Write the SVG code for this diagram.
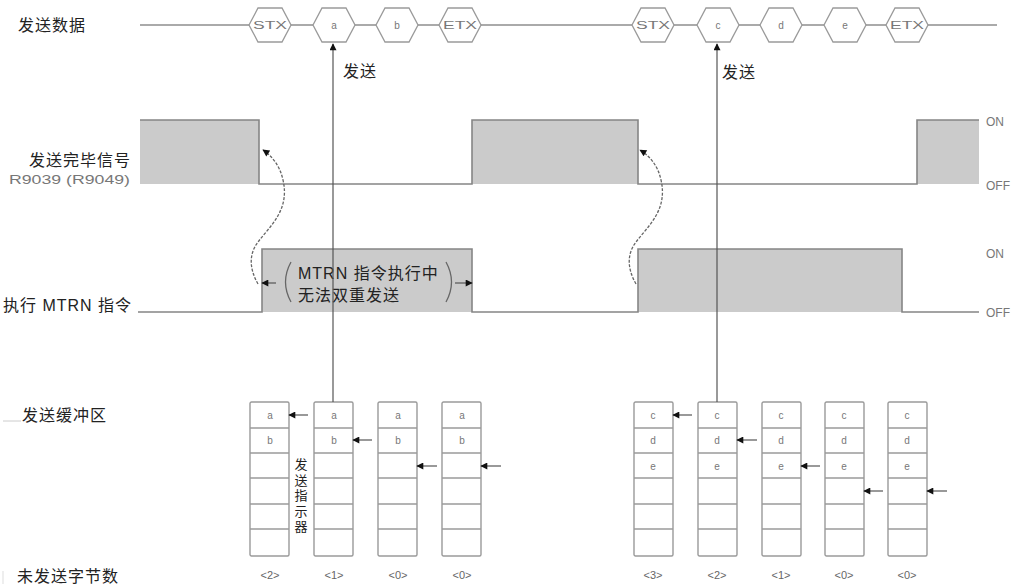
<svg xmlns="http://www.w3.org/2000/svg" width="1023" height="585" viewBox="0 0 1023 585">
<style>
.lbl{font-family:"Liberation Sans","Noto Sans CJK SC",sans-serif;font-size:16px;letter-spacing:1px;fill:#222}
.vt{font-family:"Noto Sans CJK SC",sans-serif;font-size:13px;fill:#222;writing-mode:vertical-rl;letter-spacing:2.5px}
.sm{font-family:"Liberation Sans",Arial,sans-serif;font-size:10px;fill:#777;text-anchor:middle}
.cnt{font-family:"Liberation Sans",Arial,sans-serif;font-size:11px;fill:#666;text-anchor:middle}
.onoff{font-family:"Liberation Sans",Arial,sans-serif;font-size:12px;fill:#777}
.hex{fill:#fff;stroke:#9a9a9a;stroke-width:1.3}
.wave{fill:none;stroke:#858585;stroke-width:1.6}
.blk{fill:#cbcbcb}
.buf{fill:#fff;stroke:#9a9a9a;stroke-width:1.4}
.row{stroke:#9a9a9a;stroke-width:1.4}
.conn{stroke:#555;stroke-width:1.2;fill:none}
.curve{stroke:#666;stroke-width:1.3;fill:none;stroke-dasharray:3 1.5}
.paren{stroke:#666;stroke-width:1.3;fill:none}
</style>
<defs>
<polygon id="hexshape" points="-21,0 -12,-17 12,-17 21,0 12,17 -12,17"/>
<marker id="ah" viewBox="0 0 10 10" refX="9" refY="5" markerWidth="10" markerHeight="7" markerUnits="userSpaceOnUse" orient="auto">
<path d="M0,0 L10,5 L0,10 z" fill="#111"/>
</marker>
<marker id="ahs" viewBox="0 0 10 10" refX="9" refY="5" markerWidth="10" markerHeight="7" markerUnits="userSpaceOnUse" orient="auto">
<path d="M0,0 L10,5 L0,10 z" fill="#111"/>
</marker>
<g id="buf6">
<rect class="buf" x="0" y="0" width="39" height="154" rx="1.5"/>
<line class="row" x1="0" y1="26" x2="39" y2="26"/>
<line class="row" x1="0" y1="51" x2="39" y2="51"/>
<line class="row" x1="0" y1="76" x2="39" y2="76"/>
<line class="row" x1="0" y1="102" x2="39" y2="102"/>
<line class="row" x1="0" y1="127" x2="39" y2="127"/>
</g>
</defs>

<g id="labels">
<text class="lbl" x="18" y="31">发送数据</text>
<text class="lbl" x="131" y="166" text-anchor="end">发送完毕信号</text>
<text x="130" y="184" text-anchor="end" font-family="Liberation Sans,Arial,sans-serif" font-size="13" fill="#777" textLength="121" lengthAdjust="spacingAndGlyphs">R9039 (R9049)</text>
<text class="lbl" x="3" y="311">执行 MTRN 指令</text>
<text class="lbl" x="22" y="421">发送缓冲区</text>
<line x1="3" y1="421" x2="21" y2="421" stroke="#ccc" stroke-width="1"/>
<text class="lbl" x="17" y="582">未发送字节数</text>
<line x1="3" y1="571" x2="3" y2="584" stroke="#ddd" stroke-width="1"/>
</g>

<g id="data-line">
<line x1="140" y1="25" x2="997" y2="25" stroke="#aaa" stroke-width="2"/>
</g>
<g id="hex-stx1"><use href="#hexshape" class="hex" x="270" y="25"/><text class="sm" x="270" y="29" textLength="34" lengthAdjust="spacingAndGlyphs" fill="#888">STX</text></g>
<g id="hex-a"><use href="#hexshape" class="hex" x="334" y="25"/><text class="sm" x="334" y="29">a</text></g>
<g id="hex-b"><use href="#hexshape" class="hex" x="397" y="25"/><text class="sm" x="397" y="29">b</text></g>
<g id="hex-etx1"><use href="#hexshape" class="hex" x="460" y="25"/><text class="sm" x="460" y="29" textLength="34" lengthAdjust="spacingAndGlyphs" fill="#888">ETX</text></g>
<g id="hex-stx2"><use href="#hexshape" class="hex" x="653" y="25"/><text class="sm" x="653" y="29" textLength="34" lengthAdjust="spacingAndGlyphs" fill="#888">STX</text></g>
<g id="hex-c"><use href="#hexshape" class="hex" x="718" y="25"/><text class="sm" x="718" y="29">c</text></g>
<g id="hex-d"><use href="#hexshape" class="hex" x="781" y="25"/><text class="sm" x="781" y="29">d</text></g>
<g id="hex-e"><use href="#hexshape" class="hex" x="845" y="25"/><text class="sm" x="845" y="29">e</text></g>
<g id="hex-etx2"><use href="#hexshape" class="hex" x="907" y="25"/><text class="sm" x="907" y="29" textLength="34" lengthAdjust="spacingAndGlyphs" fill="#888">ETX</text></g>

<g id="signal-done">
<rect class="blk" x="140" y="120" width="119" height="64"/>
<rect class="blk" x="472" y="120" width="166" height="64"/>
<rect class="blk" x="917" y="120" width="62" height="64"/>
<polyline class="wave" points="140,120 259,120 259,184 472,184 472,120 638,120 638,184 917,184 917,120 979,120"/>
<text class="onoff" x="986" y="126">ON</text>
<text class="onoff" x="986" y="190">OFF</text>
</g>

<g id="signal-mtrn">
<rect class="blk" x="262" y="249" width="210" height="63"/>
<rect class="blk" x="638" y="249" width="264" height="63"/>
<polyline class="wave" points="138,312 262,312 262,249 472,249 472,312 638,312 638,249 902,249 902,312 979,312"/>
<text class="onoff" x="986" y="258">ON</text>
<text class="onoff" x="986" y="317">OFF</text>
</g>

<g id="mtrn-note">
<path class="paren" d="M291,262 Q280,282 291,302"/>
<path class="paren" d="M446,262 Q457,282 446,302"/>
<text class="lbl" x="298" y="279">MTRN 指令执行中</text>
<text class="lbl" x="298" y="301">无法双重发送</text>
</g>

<g id="buffers-left">
<use href="#buf6" x="250" y="402"/>
<use href="#buf6" x="314" y="402"/>
<use href="#buf6" x="378" y="402"/>
<use href="#buf6" x="442" y="402"/>
<text class="sm" x="270" y="419">a</text><text class="sm" x="270" y="444">b</text>
<text class="sm" x="334" y="419">a</text><text class="sm" x="334" y="444">b</text>
<text class="sm" x="398" y="419">a</text><text class="sm" x="398" y="444">b</text>
<text class="sm" x="462" y="419">a</text><text class="sm" x="462" y="444">b</text>
<text class="cnt" x="270" y="579">&lt;2&gt;</text>
<text class="cnt" x="334" y="579">&lt;1&gt;</text>
<text class="cnt" x="398" y="579">&lt;0&gt;</text>
<text class="cnt" x="462" y="579">&lt;0&gt;</text>
</g>
<g id="pointer-label">
<text class="vt" x="301" y="458">发送指示器</text>
</g>

<g id="buffers-right">
<use href="#buf6" x="634" y="402"/>
<use href="#buf6" x="698" y="402"/>
<use href="#buf6" x="762" y="402"/>
<use href="#buf6" x="825" y="402"/>
<use href="#buf6" x="888" y="402"/>
<text class="sm" x="653" y="419">c</text><text class="sm" x="653" y="444">d</text><text class="sm" x="653" y="470">e</text>
<text class="sm" x="717" y="419">c</text><text class="sm" x="717" y="444">d</text><text class="sm" x="717" y="470">e</text>
<text class="sm" x="781" y="419">c</text><text class="sm" x="781" y="444">d</text><text class="sm" x="781" y="470">e</text>
<text class="sm" x="844" y="419">c</text><text class="sm" x="844" y="444">d</text><text class="sm" x="844" y="470">e</text>
<text class="sm" x="907" y="419">c</text><text class="sm" x="907" y="444">d</text><text class="sm" x="907" y="470">e</text>
<text class="cnt" x="653" y="579">&lt;3&gt;</text>
<text class="cnt" x="717" y="579">&lt;2&gt;</text>
<text class="cnt" x="781" y="579">&lt;1&gt;</text>
<text class="cnt" x="844" y="579">&lt;0&gt;</text>
<text class="cnt" x="907" y="579">&lt;0&gt;</text>
</g>

<g id="connectors">
<line class="conn" x1="333" y1="402" x2="333" y2="44" marker-end="url(#ah)"/>
<line class="conn" x1="717" y1="402" x2="717" y2="44" marker-end="url(#ah)"/>
<path class="curve" d="M258,284 C250,270 248,255 258,242 C270,226 290,210 283,180 C280,166 272,156 263,150" marker-end="url(#ah)"/>
<path class="curve" d="M636,284 C628,270 626,255 636,242 C648,226 668,210 661,180 C658,166 650,156 640,150" marker-end="url(#ah)"/>
<line class="conn" x1="276" y1="283" x2="262" y2="283" marker-end="url(#ahs)"/>
<line class="conn" x1="455" y1="283" x2="472" y2="283" marker-end="url(#ahs)"/>
<line class="conn" x1="308" y1="415" x2="289" y2="415" marker-end="url(#ahs)"/>
<line class="conn" x1="372" y1="440" x2="353" y2="440" marker-end="url(#ahs)"/>
<line class="conn" x1="437" y1="466" x2="417" y2="466" marker-end="url(#ahs)"/>
<line class="conn" x1="501" y1="466" x2="481" y2="466" marker-end="url(#ahs)"/>
<line class="conn" x1="692" y1="415" x2="673" y2="415" marker-end="url(#ahs)"/>
<line class="conn" x1="757" y1="440" x2="737" y2="440" marker-end="url(#ahs)"/>
<line class="conn" x1="820" y1="466" x2="801" y2="466" marker-end="url(#ahs)"/>
<line class="conn" x1="883" y1="491" x2="864" y2="491" marker-end="url(#ahs)"/>
<line class="conn" x1="947" y1="491" x2="927" y2="491" marker-end="url(#ahs)"/>
<text class="lbl" x="343" y="77">发送</text>
<text class="lbl" x="722" y="78">发送</text>
</g>
</svg>
